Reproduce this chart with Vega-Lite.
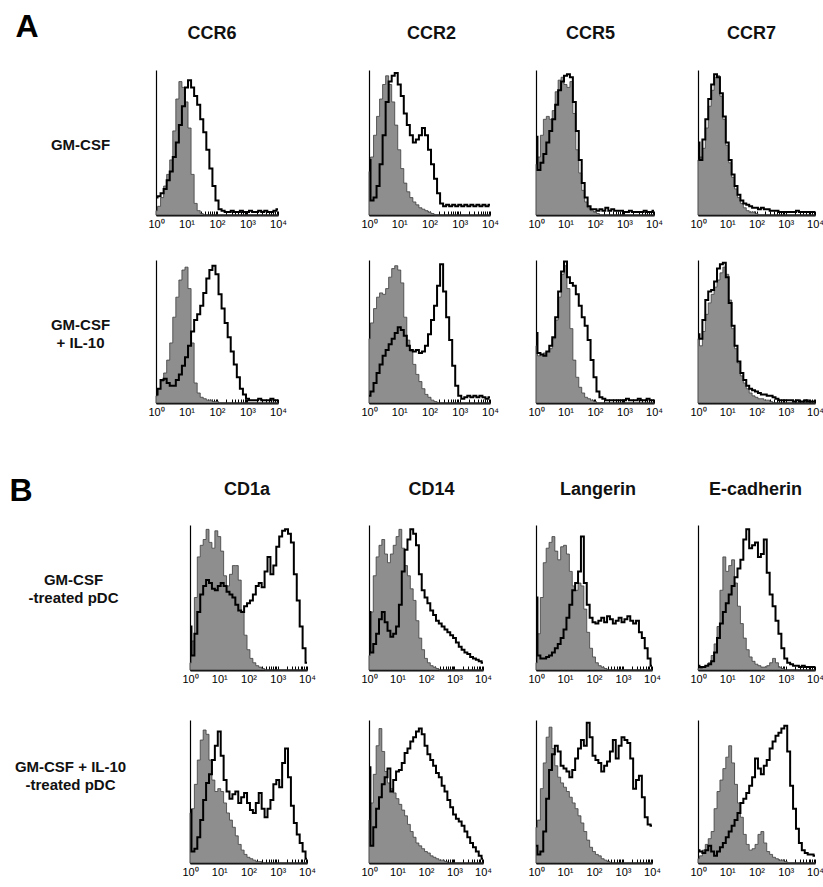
{
"$schema":"https://vega.github.io/schema/vega-lite/v6.json",
"background":"white",
"padding":{"left":9,"top":10,"right":6,"bottom":0},
"columns":4,
"spacing":{"row":45,"column":39},
"bounds":"flush",
"align":"none",
"config":{
"font":"Liberation Sans",
"view":{"stroke":null},
"axis":{"grid":false},
"axisBottom":{"zindex":1,"domainColor":"#000","domainWidth":2,"tickColor":"#000","tickWidth":1,"tickSize":-4,"labelFont":"Liberation Sans","labelFontSize":11,"labelColor":"#000","labelPadding":7,"labelFlush":false,"labelOverlap":false,"grid":false},
"axisLeft":{"zindex":1,"domainColor":"#000","domainWidth":1.2,"ticks":false,"labels":false,"grid":false,"titleAngle":0,"titleAlign":"center","titleBaseline":"alphabetic","titleFont":"Liberation Sans","titleFontSize":15,"titleFontWeight":"bold","titleLineHeight":18,"titleColor":"#111"},
"axisTop":{"domain":false,"ticks":false,"labels":false,"grid":false,"titleFont":"Liberation Sans","titleFontSize":18,"titleFontWeight":"bold","titleColor":"#111","titleAlign":"center","titleBaseline":"alphabetic","titleAngle":0}
},
"datasets":{
"ccr6_gm":[{"x":1,"i":3,"s":12},{"x":1.259,"i":6,"s":13},{"x":1.585,"i":12,"s":15},{"x":1.995,"i":20,"s":18},{"x":2.512,"i":28,"s":24},{"x":3.162,"i":38,"s":30},{"x":3.981,"i":58,"s":40},{"x":5.012,"i":80,"s":50},{"x":6.31,"i":92,"s":62},{"x":7.943,"i":88,"s":75},{"x":10,"i":78,"s":88},{"x":12.59,"i":60,"s":93},{"x":15.85,"i":28,"s":88},{"x":19.95,"i":8,"s":82},{"x":25.12,"i":3,"s":76},{"x":31.62,"i":1,"s":66},{"x":39.81,"i":0,"s":57},{"x":50.12,"i":0,"s":45},{"x":63.1,"i":0,"s":32},{"x":79.43,"i":0,"s":20},{"x":100,"i":0,"s":10},{"x":125.9,"i":0,"s":4},{"x":158.5,"i":0,"s":3},{"x":199.5,"i":0,"s":2},{"x":251.2,"i":0,"s":2},{"x":316.2,"i":0,"s":3},{"x":398.1,"i":0,"s":2},{"x":501.2,"i":0,"s":2},{"x":631,"i":0,"s":3},{"x":794.3,"i":0,"s":2},{"x":1000,"i":0,"s":2},{"x":1259,"i":0,"s":3},{"x":1585,"i":0,"s":2},{"x":1995,"i":0,"s":2},{"x":2512,"i":0,"s":3},{"x":3162,"i":0,"s":2},{"x":3981,"i":0,"s":3},{"x":5012,"i":0,"s":2},{"x":6310,"i":0,"s":2},{"x":7943,"i":0,"s":3},{"x":10000,"i":0,"s":4}],
"ccr2_gm":[{"x":1,"i":30,"s":38},{"x":1.259,"i":40,"s":10},{"x":1.585,"i":55,"s":12},{"x":1.995,"i":68,"s":20},{"x":2.512,"i":80,"s":35},{"x":3.162,"i":90,"s":55},{"x":3.981,"i":96,"s":78},{"x":5.012,"i":90,"s":92},{"x":6.31,"i":78,"s":96},{"x":7.943,"i":62,"s":98},{"x":10,"i":45,"s":90},{"x":12.59,"i":32,"s":82},{"x":15.85,"i":22,"s":70},{"x":19.95,"i":16,"s":62},{"x":25.12,"i":12,"s":55},{"x":31.62,"i":9,"s":50},{"x":39.81,"i":7,"s":52},{"x":50.12,"i":5,"s":55},{"x":63.1,"i":4,"s":60},{"x":79.43,"i":3,"s":55},{"x":100,"i":2,"s":45},{"x":125.9,"i":1,"s":35},{"x":158.5,"i":0,"s":25},{"x":199.5,"i":0,"s":15},{"x":251.2,"i":0,"s":8},{"x":316.2,"i":0,"s":6},{"x":398.1,"i":0,"s":7},{"x":501.2,"i":0,"s":6},{"x":631,"i":0,"s":7},{"x":794.3,"i":0,"s":6},{"x":1000,"i":0,"s":7},{"x":1259,"i":0,"s":6},{"x":1585,"i":0,"s":7},{"x":1995,"i":0,"s":6},{"x":2512,"i":0,"s":7},{"x":3162,"i":0,"s":6},{"x":3981,"i":0,"s":7},{"x":5012,"i":0,"s":6},{"x":6310,"i":0,"s":7},{"x":7943,"i":0,"s":6},{"x":10000,"i":0,"s":7}],
"ccr5_gm":[{"x":1,"i":35,"s":54},{"x":1.259,"i":40,"s":31},{"x":1.585,"i":55,"s":36},{"x":1.995,"i":66,"s":42},{"x":2.512,"i":68,"s":50},{"x":3.162,"i":66,"s":58},{"x":3.981,"i":72,"s":66},{"x":5.012,"i":85,"s":76},{"x":6.31,"i":93,"s":86},{"x":7.943,"i":95,"s":92},{"x":10,"i":90,"s":96},{"x":12.59,"i":88,"s":97},{"x":15.85,"i":92,"s":95},{"x":19.95,"i":70,"s":78},{"x":25.12,"i":45,"s":58},{"x":31.62,"i":29,"s":38},{"x":39.81,"i":17,"s":22},{"x":50.12,"i":9,"s":12},{"x":63.1,"i":5,"s":6},{"x":79.43,"i":3,"s":4},{"x":100,"i":2,"s":4},{"x":125.9,"i":1,"s":3},{"x":158.5,"i":0,"s":4},{"x":199.5,"i":0,"s":3},{"x":251.2,"i":0,"s":5},{"x":316.2,"i":0,"s":3},{"x":398.1,"i":0,"s":4},{"x":501.2,"i":0,"s":3},{"x":631,"i":0,"s":3},{"x":794.3,"i":0,"s":3},{"x":1000,"i":0,"s":2},{"x":1259,"i":0,"s":2},{"x":1585,"i":0,"s":3},{"x":1995,"i":0,"s":2},{"x":2512,"i":0,"s":2},{"x":3162,"i":0,"s":2},{"x":3981,"i":0,"s":2},{"x":5012,"i":0,"s":3},{"x":6310,"i":0,"s":2},{"x":7943,"i":0,"s":2},{"x":10000,"i":0,"s":3}],
"ccr7_gm":[{"x":1,"i":38,"s":50},{"x":1.259,"i":40,"s":38},{"x":1.585,"i":46,"s":52},{"x":1.995,"i":60,"s":66},{"x":2.512,"i":75,"s":80},{"x":3.162,"i":86,"s":90},{"x":3.981,"i":95,"s":97},{"x":5.012,"i":96,"s":95},{"x":6.31,"i":82,"s":84},{"x":7.943,"i":66,"s":68},{"x":10,"i":48,"s":50},{"x":12.59,"i":36,"s":38},{"x":15.85,"i":26,"s":28},{"x":19.95,"i":18,"s":20},{"x":25.12,"i":12,"s":14},{"x":31.62,"i":8,"s":10},{"x":39.81,"i":5,"s":8},{"x":50.12,"i":3,"s":7},{"x":63.1,"i":2,"s":6},{"x":79.43,"i":2,"s":5},{"x":100,"i":1,"s":5},{"x":125.9,"i":0,"s":4},{"x":158.5,"i":0,"s":5},{"x":199.5,"i":0,"s":4},{"x":251.2,"i":0,"s":4},{"x":316.2,"i":0,"s":3},{"x":398.1,"i":0,"s":3},{"x":501.2,"i":0,"s":3},{"x":631,"i":0,"s":2},{"x":794.3,"i":0,"s":2},{"x":1000,"i":0,"s":2},{"x":1259,"i":0,"s":2},{"x":1585,"i":0,"s":2},{"x":1995,"i":0,"s":2},{"x":2512,"i":0,"s":3},{"x":3162,"i":0,"s":2},{"x":3981,"i":0,"s":2},{"x":5012,"i":0,"s":2},{"x":6310,"i":0,"s":2},{"x":7943,"i":0,"s":2},{"x":10000,"i":0,"s":2}],
"ccr6_il10":[{"x":1,"i":5,"s":6},{"x":1.259,"i":10,"s":10},{"x":1.585,"i":15,"s":16},{"x":1.995,"i":21,"s":17},{"x":2.512,"i":30,"s":14},{"x":3.162,"i":42,"s":12},{"x":3.981,"i":60,"s":12},{"x":5.012,"i":74,"s":16},{"x":6.31,"i":86,"s":20},{"x":7.943,"i":93,"s":26},{"x":10,"i":95,"s":32},{"x":12.59,"i":80,"s":40},{"x":15.85,"i":42,"s":50},{"x":19.95,"i":14,"s":58},{"x":25.12,"i":7,"s":62},{"x":31.62,"i":4,"s":68},{"x":39.81,"i":3,"s":77},{"x":50.12,"i":2,"s":87},{"x":63.1,"i":2,"s":93},{"x":79.43,"i":1,"s":96},{"x":100,"i":1,"s":90},{"x":125.9,"i":0,"s":76},{"x":158.5,"i":0,"s":66},{"x":199.5,"i":0,"s":56},{"x":251.2,"i":0,"s":46},{"x":316.2,"i":0,"s":36},{"x":398.1,"i":0,"s":27},{"x":501.2,"i":0,"s":18},{"x":631,"i":0,"s":10},{"x":794.3,"i":0,"s":6},{"x":1000,"i":0,"s":3},{"x":1259,"i":0,"s":2},{"x":1585,"i":0,"s":2},{"x":1995,"i":0,"s":2},{"x":2512,"i":0,"s":3},{"x":3162,"i":0,"s":2},{"x":3981,"i":0,"s":2},{"x":5012,"i":0,"s":2},{"x":6310,"i":0,"s":3},{"x":7943,"i":0,"s":2},{"x":10000,"i":0,"s":2}],
"ccr2_il10":[{"x":1,"i":45,"s":5},{"x":1.259,"i":56,"s":8},{"x":1.585,"i":66,"s":14},{"x":1.995,"i":74,"s":21},{"x":2.512,"i":77,"s":27},{"x":3.162,"i":76,"s":33},{"x":3.981,"i":80,"s":37},{"x":5.012,"i":88,"s":41},{"x":6.31,"i":94,"s":45},{"x":7.943,"i":96,"s":49},{"x":10,"i":93,"s":53},{"x":12.59,"i":84,"s":51},{"x":15.85,"i":60,"s":47},{"x":19.95,"i":44,"s":40},{"x":25.12,"i":36,"s":37},{"x":31.62,"i":27,"s":36},{"x":39.81,"i":20,"s":37},{"x":50.12,"i":15,"s":35},{"x":63.1,"i":10,"s":36},{"x":79.43,"i":6,"s":40},{"x":100,"i":4,"s":48},{"x":125.9,"i":2,"s":58},{"x":158.5,"i":1,"s":68},{"x":199.5,"i":0,"s":82},{"x":251.2,"i":0,"s":97},{"x":316.2,"i":0,"s":78},{"x":398.1,"i":0,"s":60},{"x":501.2,"i":0,"s":44},{"x":631,"i":0,"s":26},{"x":794.3,"i":0,"s":12},{"x":1000,"i":0,"s":5},{"x":1259,"i":0,"s":3},{"x":1585,"i":0,"s":4},{"x":1995,"i":0,"s":5},{"x":2512,"i":0,"s":4},{"x":3162,"i":0,"s":5},{"x":3981,"i":0,"s":4},{"x":5012,"i":0,"s":5},{"x":6310,"i":0,"s":4},{"x":7943,"i":0,"s":3},{"x":10000,"i":0,"s":4}],
"ccr5_il10":[{"x":1,"i":40,"s":49},{"x":1.259,"i":33,"s":35},{"x":1.585,"i":34,"s":34},{"x":1.995,"i":35,"s":33},{"x":2.512,"i":36,"s":36},{"x":3.162,"i":38,"s":40},{"x":3.981,"i":45,"s":46},{"x":5.012,"i":58,"s":60},{"x":6.31,"i":74,"s":78},{"x":7.943,"i":90,"s":92},{"x":10,"i":96,"s":99},{"x":12.59,"i":80,"s":88},{"x":15.85,"i":52,"s":84},{"x":19.95,"i":30,"s":82},{"x":25.12,"i":18,"s":76},{"x":31.62,"i":11,"s":68},{"x":39.81,"i":7,"s":60},{"x":50.12,"i":4,"s":54},{"x":63.1,"i":3,"s":44},{"x":79.43,"i":2,"s":30},{"x":100,"i":1,"s":18},{"x":125.9,"i":0,"s":8},{"x":158.5,"i":0,"s":4},{"x":199.5,"i":0,"s":3},{"x":251.2,"i":0,"s":2},{"x":316.2,"i":0,"s":2},{"x":398.1,"i":0,"s":2},{"x":501.2,"i":0,"s":2},{"x":631,"i":0,"s":2},{"x":794.3,"i":0,"s":2},{"x":1000,"i":0,"s":2},{"x":1259,"i":0,"s":3},{"x":1585,"i":0,"s":2},{"x":1995,"i":0,"s":2},{"x":2512,"i":0,"s":2},{"x":3162,"i":0,"s":3},{"x":3981,"i":0,"s":2},{"x":5012,"i":0,"s":2},{"x":6310,"i":0,"s":3},{"x":7943,"i":0,"s":2},{"x":10000,"i":0,"s":2}],
"ccr7_il10":[{"x":1,"i":45,"s":48},{"x":1.259,"i":40,"s":45},{"x":1.585,"i":50,"s":58},{"x":1.995,"i":62,"s":72},{"x":2.512,"i":70,"s":78},{"x":3.162,"i":76,"s":79},{"x":3.981,"i":81,"s":85},{"x":5.012,"i":86,"s":94},{"x":6.31,"i":91,"s":97},{"x":7.943,"i":95,"s":98},{"x":10,"i":90,"s":88},{"x":12.59,"i":72,"s":70},{"x":15.85,"i":52,"s":54},{"x":19.95,"i":38,"s":40},{"x":25.12,"i":28,"s":29},{"x":31.62,"i":19,"s":21},{"x":39.81,"i":14,"s":16},{"x":50.12,"i":10,"s":12},{"x":63.1,"i":7,"s":10},{"x":79.43,"i":5,"s":9},{"x":100,"i":4,"s":8},{"x":125.9,"i":3,"s":7},{"x":158.5,"i":3,"s":6},{"x":199.5,"i":2,"s":6},{"x":251.2,"i":2,"s":5},{"x":316.2,"i":1,"s":5},{"x":398.1,"i":0,"s":4},{"x":501.2,"i":0,"s":3},{"x":631,"i":0,"s":2},{"x":794.3,"i":0,"s":2},{"x":1000,"i":0,"s":2},{"x":1259,"i":0,"s":2},{"x":1585,"i":0,"s":2},{"x":1995,"i":0,"s":1},{"x":2512,"i":0,"s":2},{"x":3162,"i":0,"s":1},{"x":3981,"i":0,"s":1},{"x":5012,"i":0,"s":2},{"x":6310,"i":0,"s":1},{"x":7943,"i":0,"s":1},{"x":10000,"i":0,"s":1}],
"cd1a_gm":[{"x":1,"i":5,"s":30},{"x":1.259,"i":20,"s":10},{"x":1.585,"i":50,"s":25},{"x":1.995,"i":78,"s":40},{"x":2.512,"i":86,"s":52},{"x":3.162,"i":90,"s":58},{"x":3.981,"i":97,"s":62},{"x":5.012,"i":88,"s":60},{"x":6.31,"i":84,"s":56},{"x":7.943,"i":96,"s":55},{"x":10,"i":92,"s":58},{"x":12.59,"i":82,"s":60},{"x":15.85,"i":65,"s":58},{"x":19.95,"i":58,"s":54},{"x":25.12,"i":66,"s":52},{"x":31.62,"i":72,"s":50},{"x":39.81,"i":72,"s":45},{"x":50.12,"i":62,"s":41},{"x":63.1,"i":40,"s":40},{"x":79.43,"i":24,"s":44},{"x":100,"i":14,"s":46},{"x":125.9,"i":8,"s":48},{"x":158.5,"i":5,"s":52},{"x":199.5,"i":3,"s":58},{"x":251.2,"i":2,"s":60},{"x":316.2,"i":1,"s":57},{"x":398.1,"i":0,"s":68},{"x":501.2,"i":0,"s":78},{"x":631,"i":0,"s":66},{"x":794.3,"i":0,"s":72},{"x":1000,"i":0,"s":85},{"x":1259,"i":0,"s":92},{"x":1585,"i":0,"s":96},{"x":1995,"i":0,"s":97},{"x":2512,"i":0,"s":94},{"x":3162,"i":0,"s":88},{"x":3981,"i":0,"s":66},{"x":5012,"i":0,"s":48},{"x":6310,"i":0,"s":30},{"x":7943,"i":0,"s":15},{"x":10000,"i":0,"s":5}],
"cd14_gm":[{"x":1,"i":10,"s":40},{"x":1.259,"i":40,"s":12},{"x":1.585,"i":65,"s":18},{"x":1.995,"i":78,"s":25},{"x":2.512,"i":86,"s":35},{"x":3.162,"i":90,"s":40},{"x":3.981,"i":80,"s":33},{"x":5.012,"i":74,"s":27},{"x":6.31,"i":80,"s":23},{"x":7.943,"i":86,"s":25},{"x":10,"i":92,"s":30},{"x":12.59,"i":97,"s":45},{"x":15.85,"i":84,"s":68},{"x":19.95,"i":72,"s":83},{"x":25.12,"i":65,"s":90},{"x":31.62,"i":56,"s":97},{"x":39.81,"i":48,"s":94},{"x":50.12,"i":34,"s":86},{"x":63.1,"i":22,"s":66},{"x":79.43,"i":14,"s":55},{"x":100,"i":8,"s":50},{"x":125.9,"i":5,"s":46},{"x":158.5,"i":3,"s":41},{"x":199.5,"i":2,"s":38},{"x":251.2,"i":1,"s":34},{"x":316.2,"i":0,"s":32},{"x":398.1,"i":0,"s":30},{"x":501.2,"i":0,"s":28},{"x":631,"i":0,"s":26},{"x":794.3,"i":0,"s":24},{"x":1000,"i":0,"s":22},{"x":1259,"i":0,"s":19},{"x":1585,"i":0,"s":16},{"x":1995,"i":0,"s":14},{"x":2512,"i":0,"s":12},{"x":3162,"i":0,"s":11},{"x":3981,"i":0,"s":9},{"x":5012,"i":0,"s":8},{"x":6310,"i":0,"s":7},{"x":7943,"i":0,"s":6},{"x":10000,"i":0,"s":5}],
"lang_gm":[{"x":1,"i":5,"s":50},{"x":1.259,"i":25,"s":10},{"x":1.585,"i":50,"s":8},{"x":1.995,"i":74,"s":8},{"x":2.512,"i":84,"s":9},{"x":3.162,"i":88,"s":10},{"x":3.981,"i":92,"s":12},{"x":5.012,"i":82,"s":15},{"x":6.31,"i":76,"s":18},{"x":7.943,"i":85,"s":22},{"x":10,"i":86,"s":28},{"x":12.59,"i":80,"s":36},{"x":15.85,"i":68,"s":45},{"x":19.95,"i":58,"s":55},{"x":25.12,"i":55,"s":60},{"x":31.62,"i":60,"s":68},{"x":39.81,"i":58,"s":92},{"x":50.12,"i":42,"s":60},{"x":63.1,"i":26,"s":45},{"x":79.43,"i":15,"s":36},{"x":100,"i":9,"s":33},{"x":125.9,"i":5,"s":32},{"x":158.5,"i":3,"s":34},{"x":199.5,"i":2,"s":36},{"x":251.2,"i":1,"s":33},{"x":316.2,"i":0,"s":37},{"x":398.1,"i":0,"s":35},{"x":501.2,"i":0,"s":32},{"x":631,"i":0,"s":34},{"x":794.3,"i":0,"s":36},{"x":1000,"i":0,"s":33},{"x":1259,"i":0,"s":35},{"x":1585,"i":0,"s":37},{"x":1995,"i":0,"s":34},{"x":2512,"i":0,"s":32},{"x":3162,"i":0,"s":34},{"x":3981,"i":0,"s":26},{"x":5012,"i":0,"s":22},{"x":6310,"i":0,"s":15},{"x":7943,"i":0,"s":8},{"x":10000,"i":0,"s":3}],
"ecad_gm":[{"x":1,"i":1,"s":3},{"x":1.259,"i":1,"s":2},{"x":1.585,"i":2,"s":2},{"x":1.995,"i":3,"s":3},{"x":2.512,"i":5,"s":4},{"x":3.162,"i":10,"s":6},{"x":3.981,"i":18,"s":12},{"x":5.012,"i":30,"s":22},{"x":6.31,"i":55,"s":32},{"x":7.943,"i":78,"s":40},{"x":10,"i":68,"s":46},{"x":12.59,"i":72,"s":52},{"x":15.85,"i":76,"s":58},{"x":19.95,"i":60,"s":64},{"x":25.12,"i":44,"s":70},{"x":31.62,"i":32,"s":76},{"x":39.81,"i":22,"s":90},{"x":50.12,"i":14,"s":97},{"x":63.1,"i":9,"s":84},{"x":79.43,"i":6,"s":86},{"x":100,"i":4,"s":88},{"x":125.9,"i":3,"s":78},{"x":158.5,"i":2,"s":80},{"x":199.5,"i":2,"s":90},{"x":251.2,"i":3,"s":67},{"x":316.2,"i":5,"s":52},{"x":398.1,"i":8,"s":44},{"x":501.2,"i":5,"s":34},{"x":631,"i":2,"s":25},{"x":794.3,"i":1,"s":15},{"x":1000,"i":0,"s":8},{"x":1259,"i":0,"s":5},{"x":1585,"i":0,"s":4},{"x":1995,"i":0,"s":3},{"x":2512,"i":0,"s":3},{"x":3162,"i":0,"s":2},{"x":3981,"i":0,"s":3},{"x":5012,"i":0,"s":2},{"x":6310,"i":0,"s":2},{"x":7943,"i":0,"s":2},{"x":10000,"i":0,"s":2}],
"cd1a_il10":[{"x":1,"i":35,"s":37},{"x":1.259,"i":38,"s":8},{"x":1.585,"i":55,"s":10},{"x":1.995,"i":72,"s":18},{"x":2.512,"i":86,"s":30},{"x":3.162,"i":93,"s":44},{"x":3.981,"i":90,"s":56},{"x":5.012,"i":72,"s":62},{"x":6.31,"i":58,"s":72},{"x":7.943,"i":50,"s":82},{"x":10,"i":52,"s":92},{"x":12.59,"i":50,"s":75},{"x":15.85,"i":42,"s":58},{"x":19.95,"i":35,"s":50},{"x":25.12,"i":30,"s":45},{"x":31.62,"i":25,"s":48},{"x":39.81,"i":19,"s":50},{"x":50.12,"i":13,"s":42},{"x":63.1,"i":9,"s":46},{"x":79.43,"i":6,"s":49},{"x":100,"i":4,"s":42},{"x":125.9,"i":3,"s":37},{"x":158.5,"i":2,"s":35},{"x":199.5,"i":1,"s":42},{"x":251.2,"i":1,"s":49},{"x":316.2,"i":0,"s":38},{"x":398.1,"i":0,"s":32},{"x":501.2,"i":0,"s":38},{"x":631,"i":0,"s":44},{"x":794.3,"i":0,"s":55},{"x":1000,"i":0,"s":58},{"x":1259,"i":0,"s":53},{"x":1585,"i":0,"s":70},{"x":1995,"i":0,"s":80},{"x":2512,"i":0,"s":60},{"x":3162,"i":0,"s":40},{"x":3981,"i":0,"s":28},{"x":5012,"i":0,"s":20},{"x":6310,"i":0,"s":14},{"x":7943,"i":0,"s":8},{"x":10000,"i":0,"s":3}],
"cd14_il10":[{"x":1,"i":30,"s":67},{"x":1.259,"i":42,"s":12},{"x":1.585,"i":62,"s":25},{"x":1.995,"i":82,"s":38},{"x":2.512,"i":94,"s":46},{"x":3.162,"i":78,"s":55},{"x":3.981,"i":64,"s":60},{"x":5.012,"i":56,"s":66},{"x":6.31,"i":52,"s":50},{"x":7.943,"i":49,"s":58},{"x":10,"i":45,"s":64},{"x":12.59,"i":41,"s":65},{"x":15.85,"i":37,"s":70},{"x":19.95,"i":33,"s":77},{"x":25.12,"i":27,"s":80},{"x":31.62,"i":22,"s":85},{"x":39.81,"i":18,"s":88},{"x":50.12,"i":14,"s":92},{"x":63.1,"i":12,"s":94},{"x":79.43,"i":10,"s":90},{"x":100,"i":8,"s":82},{"x":125.9,"i":7,"s":76},{"x":158.5,"i":5,"s":72},{"x":199.5,"i":4,"s":68},{"x":251.2,"i":3,"s":63},{"x":316.2,"i":2,"s":60},{"x":398.1,"i":2,"s":54},{"x":501.2,"i":1,"s":50},{"x":631,"i":0,"s":44},{"x":794.3,"i":0,"s":39},{"x":1000,"i":0,"s":34},{"x":1259,"i":0,"s":31},{"x":1585,"i":0,"s":29},{"x":1995,"i":0,"s":26},{"x":2512,"i":0,"s":22},{"x":3162,"i":0,"s":18},{"x":3981,"i":0,"s":14},{"x":5012,"i":0,"s":11},{"x":6310,"i":0,"s":8},{"x":7943,"i":0,"s":5},{"x":10000,"i":0,"s":3}],
"lang_il10":[{"x":1,"i":25,"s":12},{"x":1.259,"i":30,"s":6},{"x":1.585,"i":52,"s":8},{"x":1.995,"i":70,"s":22},{"x":2.512,"i":88,"s":45},{"x":3.162,"i":95,"s":65},{"x":3.981,"i":80,"s":76},{"x":5.012,"i":68,"s":82},{"x":6.31,"i":60,"s":78},{"x":7.943,"i":56,"s":68},{"x":10,"i":53,"s":66},{"x":12.59,"i":50,"s":64},{"x":15.85,"i":46,"s":60},{"x":19.95,"i":42,"s":65},{"x":25.12,"i":38,"s":73},{"x":31.62,"i":33,"s":80},{"x":39.81,"i":28,"s":86},{"x":50.12,"i":22,"s":82},{"x":63.1,"i":16,"s":98},{"x":79.43,"i":11,"s":88},{"x":100,"i":8,"s":75},{"x":125.9,"i":6,"s":72},{"x":158.5,"i":5,"s":70},{"x":199.5,"i":3,"s":64},{"x":251.2,"i":2,"s":68},{"x":316.2,"i":1,"s":71},{"x":398.1,"i":0,"s":78},{"x":501.2,"i":0,"s":86},{"x":631,"i":0,"s":73},{"x":794.3,"i":0,"s":82},{"x":1000,"i":0,"s":88},{"x":1259,"i":0,"s":86},{"x":1585,"i":0,"s":84},{"x":1995,"i":0,"s":73},{"x":2512,"i":0,"s":52},{"x":3162,"i":0,"s":58},{"x":3981,"i":0,"s":61},{"x":5012,"i":0,"s":46},{"x":6310,"i":0,"s":32},{"x":7943,"i":0,"s":27},{"x":10000,"i":0,"s":26}],
"ecad_il10":[{"x":1,"i":3,"s":9},{"x":1.259,"i":5,"s":8},{"x":1.585,"i":9,"s":7},{"x":1.995,"i":13,"s":9},{"x":2.512,"i":17,"s":12},{"x":3.162,"i":22,"s":8},{"x":3.981,"i":38,"s":5},{"x":5.012,"i":50,"s":8},{"x":6.31,"i":58,"s":11},{"x":7.943,"i":66,"s":14},{"x":10,"i":74,"s":18},{"x":12.59,"i":82,"s":22},{"x":15.85,"i":70,"s":26},{"x":19.95,"i":55,"s":30},{"x":25.12,"i":42,"s":35},{"x":31.62,"i":32,"s":42},{"x":39.81,"i":20,"s":45},{"x":50.12,"i":13,"s":49},{"x":63.1,"i":9,"s":54},{"x":79.43,"i":10,"s":60},{"x":100,"i":13,"s":73},{"x":125.9,"i":20,"s":66},{"x":158.5,"i":22,"s":62},{"x":199.5,"i":14,"s":68},{"x":251.2,"i":8,"s":72},{"x":316.2,"i":6,"s":80},{"x":398.1,"i":4,"s":85},{"x":501.2,"i":3,"s":89},{"x":631,"i":2,"s":91},{"x":794.3,"i":2,"s":94},{"x":1000,"i":1,"s":96},{"x":1259,"i":0,"s":78},{"x":1585,"i":0,"s":54},{"x":1995,"i":0,"s":38},{"x":2512,"i":0,"s":24},{"x":3162,"i":0,"s":14},{"x":3981,"i":0,"s":9},{"x":5012,"i":0,"s":7},{"x":6310,"i":0,"s":6},{"x":7943,"i":0,"s":6},{"x":10000,"i":0,"s":5}]
},
"concat":[
{"width":174,"height":145,"data":{"name":"ccr6_gm"},"resolve":{"axis":{"x":"independent"}},"layer":[
{"mark":{"type":"area","interpolate":"step","fill":"#8e8e8e","fillOpacity":1,"opacity":1,"stroke":"#3c3c3c","strokeWidth":0.8},"encoding":{"x":{"field":"x","type":"quantitative","scale":{"type":"log","domain":[1,10000],"range":[0,122],"nice":false},"axis":{"values":[1,2,3,4,5,6,7,8,9,10,20,30,40,50,60,70,80,90,100,200,300,400,500,600,700,800,900,1000,2000,3000,4000,5000,6000,7000,8000,9000,10000],"labelExpr":"datum.value == 1 ? '10⁰' : datum.value == 10 ? '10¹' : datum.value == 100 ? '10²' : datum.value == 1000 ? '10³' : datum.value == 10000 ? '10⁴' : ''","title":"A","titleX":-141,"titleY":-179,"titleFont":"Liberation Sans","titleFontSize":32,"titleFontWeight":"bold","titleAlign":"left","titleBaseline":"alphabetic","titleColor":"#000","titleAngle":0}},"y":{"field":"i","type":"quantitative","scale":{"domain":[0,100],"nice":false},"axis":{"title":"GM-CSF","titleX":-76,"titleY":79}}}},
{"mark":{"type":"line","interpolate":"step","color":"#000","strokeWidth":2},"encoding":{"x":{"field":"x","type":"quantitative","scale":{"type":"log","domain":[1,10000],"range":[0,122],"nice":false},"axis":{"orient":"top","title":"CCR6","titleX":55.5,"titleY":-32}},"y":{"field":"s","type":"quantitative","scale":{"domain":[0,100],"nice":false}}}}]},
{"width":121,"height":145,"data":{"name":"ccr2_gm"},"resolve":{"axis":{"x":"independent"}},"layer":[
{"mark":{"type":"area","interpolate":"step","fill":"#8e8e8e","fillOpacity":1,"opacity":1,"stroke":"#3c3c3c","strokeWidth":0.8},"encoding":{"x":{"field":"x","type":"quantitative","scale":{"type":"log","domain":[1,10000],"range":[0,121],"nice":false},"axis":{"values":[1,2,3,4,5,6,7,8,9,10,20,30,40,50,60,70,80,90,100,200,300,400,500,600,700,800,900,1000,2000,3000,4000,5000,6000,7000,8000,9000,10000],"labelExpr":"datum.value == 1 ? '10⁰' : datum.value == 10 ? '10¹' : datum.value == 100 ? '10²' : datum.value == 1000 ? '10³' : datum.value == 10000 ? '10⁴' : ''","title":null}},"y":{"field":"i","type":"quantitative","scale":{"domain":[0,100],"nice":false},"axis":{"title":null}}}},
{"mark":{"type":"line","interpolate":"step","color":"#000","strokeWidth":2},"encoding":{"x":{"field":"x","type":"quantitative","scale":{"type":"log","domain":[1,10000],"range":[0,121],"nice":false},"axis":{"orient":"top","title":"CCR2","titleX":62,"titleY":-32}},"y":{"field":"s","type":"quantitative","scale":{"domain":[0,100],"nice":false}}}}]},
{"width":120,"height":145,"data":{"name":"ccr5_gm"},"resolve":{"axis":{"x":"independent"}},"layer":[
{"mark":{"type":"area","interpolate":"step","fill":"#8e8e8e","fillOpacity":1,"opacity":1,"stroke":"#3c3c3c","strokeWidth":0.8},"encoding":{"x":{"field":"x","type":"quantitative","scale":{"type":"log","domain":[1,10000],"range":[0,118],"nice":false},"axis":{"values":[1,2,3,4,5,6,7,8,9,10,20,30,40,50,60,70,80,90,100,200,300,400,500,600,700,800,900,1000,2000,3000,4000,5000,6000,7000,8000,9000,10000],"labelExpr":"datum.value == 1 ? '10⁰' : datum.value == 10 ? '10¹' : datum.value == 100 ? '10²' : datum.value == 1000 ? '10³' : datum.value == 10000 ? '10⁴' : ''","title":null}},"y":{"field":"i","type":"quantitative","scale":{"domain":[0,100],"nice":false},"axis":{"title":null}}}},
{"mark":{"type":"line","interpolate":"step","color":"#000","strokeWidth":2},"encoding":{"x":{"field":"x","type":"quantitative","scale":{"type":"log","domain":[1,10000],"range":[0,118],"nice":false},"axis":{"orient":"top","title":"CCR5","titleX":54,"titleY":-32}},"y":{"field":"s","type":"quantitative","scale":{"domain":[0,100],"nice":false}}}}]},
{"width":120,"height":145,"data":{"name":"ccr7_gm"},"resolve":{"axis":{"x":"independent"}},"layer":[
{"mark":{"type":"area","interpolate":"step","fill":"#8e8e8e","fillOpacity":1,"opacity":1,"stroke":"#3c3c3c","strokeWidth":0.8},"encoding":{"x":{"field":"x","type":"quantitative","scale":{"type":"log","domain":[1,10000],"range":[0,117],"nice":false},"axis":{"values":[1,2,3,4,5,6,7,8,9,10,20,30,40,50,60,70,80,90,100,200,300,400,500,600,700,800,900,1000,2000,3000,4000,5000,6000,7000,8000,9000,10000],"labelExpr":"datum.value == 1 ? '10⁰' : datum.value == 10 ? '10¹' : datum.value == 100 ? '10²' : datum.value == 1000 ? '10³' : datum.value == 10000 ? '10⁴' : ''","title":null}},"y":{"field":"i","type":"quantitative","scale":{"domain":[0,100],"nice":false},"axis":{"title":null}}}},
{"mark":{"type":"line","interpolate":"step","color":"#000","strokeWidth":2},"encoding":{"x":{"field":"x","type":"quantitative","scale":{"type":"log","domain":[1,10000],"range":[0,117],"nice":false},"axis":{"orient":"top","title":"CCR7","titleX":53,"titleY":-32}},"y":{"field":"s","type":"quantitative","scale":{"domain":[0,100],"nice":false}}}}]},
{"width":174,"height":143,"data":{"name":"ccr6_il10"},"layer":[
{"mark":{"type":"area","interpolate":"step","fill":"#8e8e8e","fillOpacity":1,"opacity":1,"stroke":"#3c3c3c","strokeWidth":0.8},"encoding":{"x":{"field":"x","type":"quantitative","scale":{"type":"log","domain":[1,10000],"range":[0,122],"nice":false},"axis":{"values":[1,2,3,4,5,6,7,8,9,10,20,30,40,50,60,70,80,90,100,200,300,400,500,600,700,800,900,1000,2000,3000,4000,5000,6000,7000,8000,9000,10000],"labelExpr":"datum.value == 1 ? '10⁰' : datum.value == 10 ? '10¹' : datum.value == 100 ? '10²' : datum.value == 1000 ? '10³' : datum.value == 10000 ? '10⁴' : ''","title":null}},"y":{"field":"i","type":"quantitative","scale":{"domain":[0,100],"nice":false},"axis":{"title":["GM-CSF","+ IL-10"],"titleX":-76,"titleY":69}}}},
{"mark":{"type":"line","interpolate":"step","color":"#000","strokeWidth":2},"encoding":{"x":{"field":"x","type":"quantitative","scale":{"type":"log","domain":[1,10000],"range":[0,122],"nice":false}},"y":{"field":"s","type":"quantitative","scale":{"domain":[0,100],"nice":false}}}}]},
{"width":121,"height":143,"data":{"name":"ccr2_il10"},"layer":[
{"mark":{"type":"area","interpolate":"step","fill":"#8e8e8e","fillOpacity":1,"opacity":1,"stroke":"#3c3c3c","strokeWidth":0.8},"encoding":{"x":{"field":"x","type":"quantitative","scale":{"type":"log","domain":[1,10000],"range":[0,121],"nice":false},"axis":{"values":[1,2,3,4,5,6,7,8,9,10,20,30,40,50,60,70,80,90,100,200,300,400,500,600,700,800,900,1000,2000,3000,4000,5000,6000,7000,8000,9000,10000],"labelExpr":"datum.value == 1 ? '10⁰' : datum.value == 10 ? '10¹' : datum.value == 100 ? '10²' : datum.value == 1000 ? '10³' : datum.value == 10000 ? '10⁴' : ''","title":null}},"y":{"field":"i","type":"quantitative","scale":{"domain":[0,100],"nice":false},"axis":{"title":null}}}},
{"mark":{"type":"line","interpolate":"step","color":"#000","strokeWidth":2},"encoding":{"x":{"field":"x","type":"quantitative","scale":{"type":"log","domain":[1,10000],"range":[0,121],"nice":false}},"y":{"field":"s","type":"quantitative","scale":{"domain":[0,100],"nice":false}}}}]},
{"width":120,"height":143,"data":{"name":"ccr5_il10"},"layer":[
{"mark":{"type":"area","interpolate":"step","fill":"#8e8e8e","fillOpacity":1,"opacity":1,"stroke":"#3c3c3c","strokeWidth":0.8},"encoding":{"x":{"field":"x","type":"quantitative","scale":{"type":"log","domain":[1,10000],"range":[0,118],"nice":false},"axis":{"values":[1,2,3,4,5,6,7,8,9,10,20,30,40,50,60,70,80,90,100,200,300,400,500,600,700,800,900,1000,2000,3000,4000,5000,6000,7000,8000,9000,10000],"labelExpr":"datum.value == 1 ? '10⁰' : datum.value == 10 ? '10¹' : datum.value == 100 ? '10²' : datum.value == 1000 ? '10³' : datum.value == 10000 ? '10⁴' : ''","title":null}},"y":{"field":"i","type":"quantitative","scale":{"domain":[0,100],"nice":false},"axis":{"title":null}}}},
{"mark":{"type":"line","interpolate":"step","color":"#000","strokeWidth":2},"encoding":{"x":{"field":"x","type":"quantitative","scale":{"type":"log","domain":[1,10000],"range":[0,118],"nice":false}},"y":{"field":"s","type":"quantitative","scale":{"domain":[0,100],"nice":false}}}}]},
{"width":120,"height":143,"data":{"name":"ccr7_il10"},"layer":[
{"mark":{"type":"area","interpolate":"step","fill":"#8e8e8e","fillOpacity":1,"opacity":1,"stroke":"#3c3c3c","strokeWidth":0.8},"encoding":{"x":{"field":"x","type":"quantitative","scale":{"type":"log","domain":[1,10000],"range":[0,117],"nice":false},"axis":{"values":[1,2,3,4,5,6,7,8,9,10,20,30,40,50,60,70,80,90,100,200,300,400,500,600,700,800,900,1000,2000,3000,4000,5000,6000,7000,8000,9000,10000],"labelExpr":"datum.value == 1 ? '10⁰' : datum.value == 10 ? '10¹' : datum.value == 100 ? '10²' : datum.value == 1000 ? '10³' : datum.value == 10000 ? '10⁴' : ''","title":null}},"y":{"field":"i","type":"quantitative","scale":{"domain":[0,100],"nice":false},"axis":{"title":null}}}},
{"mark":{"type":"line","interpolate":"step","color":"#000","strokeWidth":2},"encoding":{"x":{"field":"x","type":"quantitative","scale":{"type":"log","domain":[1,10000],"range":[0,117],"nice":false}},"y":{"field":"s","type":"quantitative","scale":{"domain":[0,100],"nice":false}}}}]},
{"width":164,"height":222,"data":{"name":"cd1a_gm"},"resolve":{"axis":{"x":"independent"}},"layer":[
{"mark":{"type":"area","interpolate":"step","fill":"#8e8e8e","fillOpacity":1,"opacity":1,"stroke":"#3c3c3c","strokeWidth":0.8},"encoding":{"x":{"field":"x","type":"quantitative","scale":{"type":"log","domain":[1,10000],"range":[34,151],"nice":false},"axis":{"values":[1,2,3,4,5,6,7,8,9,10,20,30,40,50,60,70,80,90,100,200,300,400,500,600,700,800,900,1000,2000,3000,4000,5000,6000,7000,8000,9000,10000],"labelExpr":"datum.value == 1 ? '10⁰' : datum.value == 10 ? '10¹' : datum.value == 100 ? '10²' : datum.value == 1000 ? '10³' : datum.value == 10000 ? '10⁴' : ''","title":"B","titleX":-147,"titleY":-170,"titleFont":"Liberation Sans","titleFontSize":32,"titleFontWeight":"bold","titleAlign":"left","titleBaseline":"alphabetic","titleColor":"#000","titleAngle":0}},"y":{"field":"i","type":"quantitative","scale":{"domain":[0,100],"nice":false,"range":[222,77]},"axis":{"offset":-34,"title":["GM-CSF","-treated pDC"],"titleX":-117,"titleY":136}}}},
{"mark":{"type":"line","interpolate":"step","color":"#000","strokeWidth":2},"encoding":{"x":{"field":"x","type":"quantitative","scale":{"type":"log","domain":[1,10000],"range":[34,151],"nice":false},"axis":{"orient":"top","title":"CD1a","titleX":90.5,"titleY":46}},"y":{"field":"s","type":"quantitative","scale":{"domain":[0,100],"nice":false,"range":[222,77]}}}}]},
{"width":128,"height":222,"data":{"name":"cd14_gm"},"resolve":{"axis":{"x":"independent"}},"layer":[
{"mark":{"type":"area","interpolate":"step","fill":"#8e8e8e","fillOpacity":1,"opacity":1,"stroke":"#3c3c3c","strokeWidth":0.8},"encoding":{"x":{"field":"x","type":"quantitative","scale":{"type":"log","domain":[1,10000],"range":[0,114],"nice":false},"axis":{"values":[1,2,3,4,5,6,7,8,9,10,20,30,40,50,60,70,80,90,100,200,300,400,500,600,700,800,900,1000,2000,3000,4000,5000,6000,7000,8000,9000,10000],"labelExpr":"datum.value == 1 ? '10⁰' : datum.value == 10 ? '10¹' : datum.value == 100 ? '10²' : datum.value == 1000 ? '10³' : datum.value == 10000 ? '10⁴' : ''","title":null}},"y":{"field":"i","type":"quantitative","scale":{"domain":[0,100],"nice":false,"range":[222,77]},"axis":{"title":null}}}},
{"mark":{"type":"line","interpolate":"step","color":"#000","strokeWidth":2},"encoding":{"x":{"field":"x","type":"quantitative","scale":{"type":"log","domain":[1,10000],"range":[0,114],"nice":false},"axis":{"orient":"top","title":"CD14","titleX":62,"titleY":46}},"y":{"field":"s","type":"quantitative","scale":{"domain":[0,100],"nice":false,"range":[222,77]}}}}]},
{"width":123,"height":222,"data":{"name":"lang_gm"},"resolve":{"axis":{"x":"independent"}},"layer":[
{"mark":{"type":"area","interpolate":"step","fill":"#8e8e8e","fillOpacity":1,"opacity":1,"stroke":"#3c3c3c","strokeWidth":0.8},"encoding":{"x":{"field":"x","type":"quantitative","scale":{"type":"log","domain":[1,10000],"range":[0,116],"nice":false},"axis":{"values":[1,2,3,4,5,6,7,8,9,10,20,30,40,50,60,70,80,90,100,200,300,400,500,600,700,800,900,1000,2000,3000,4000,5000,6000,7000,8000,9000,10000],"labelExpr":"datum.value == 1 ? '10⁰' : datum.value == 10 ? '10¹' : datum.value == 100 ? '10²' : datum.value == 1000 ? '10³' : datum.value == 10000 ? '10⁴' : ''","title":null}},"y":{"field":"i","type":"quantitative","scale":{"domain":[0,100],"nice":false,"range":[222,77]},"axis":{"title":null}}}},
{"mark":{"type":"line","interpolate":"step","color":"#000","strokeWidth":2},"encoding":{"x":{"field":"x","type":"quantitative","scale":{"type":"log","domain":[1,10000],"range":[0,116],"nice":false},"axis":{"orient":"top","title":"Langerin","titleX":61.5,"titleY":46}},"y":{"field":"s","type":"quantitative","scale":{"domain":[0,100],"nice":false,"range":[222,77]}}}}]},
{"width":117,"height":222,"data":{"name":"ecad_gm"},"resolve":{"axis":{"x":"independent"}},"layer":[
{"mark":{"type":"area","interpolate":"step","fill":"#8e8e8e","fillOpacity":1,"opacity":1,"stroke":"#3c3c3c","strokeWidth":0.8},"encoding":{"x":{"field":"x","type":"quantitative","scale":{"type":"log","domain":[1,10000],"range":[0,117],"nice":false},"axis":{"values":[1,2,3,4,5,6,7,8,9,10,20,30,40,50,60,70,80,90,100,200,300,400,500,600,700,800,900,1000,2000,3000,4000,5000,6000,7000,8000,9000,10000],"labelExpr":"datum.value == 1 ? '10⁰' : datum.value == 10 ? '10¹' : datum.value == 100 ? '10²' : datum.value == 1000 ? '10³' : datum.value == 10000 ? '10⁴' : ''","title":null}},"y":{"field":"i","type":"quantitative","scale":{"domain":[0,100],"nice":false,"range":[222,77]},"axis":{"title":null}}}},
{"mark":{"type":"line","interpolate":"step","color":"#000","strokeWidth":2},"encoding":{"x":{"field":"x","type":"quantitative","scale":{"type":"log","domain":[1,10000],"range":[0,117],"nice":false},"axis":{"orient":"top","title":"E-cadherin","titleX":57,"titleY":46}},"y":{"field":"s","type":"quantitative","scale":{"domain":[0,100],"nice":false,"range":[222,77]}}}}]},
{"width":164,"height":148,"data":{"name":"cd1a_il10"},"layer":[
{"mark":{"type":"area","interpolate":"step","fill":"#8e8e8e","fillOpacity":1,"opacity":1,"stroke":"#3c3c3c","strokeWidth":0.8},"encoding":{"x":{"field":"x","type":"quantitative","scale":{"type":"log","domain":[1,10000],"range":[34,151],"nice":false},"axis":{"values":[1,2,3,4,5,6,7,8,9,10,20,30,40,50,60,70,80,90,100,200,300,400,500,600,700,800,900,1000,2000,3000,4000,5000,6000,7000,8000,9000,10000],"labelExpr":"datum.value == 1 ? '10⁰' : datum.value == 10 ? '10¹' : datum.value == 100 ? '10²' : datum.value == 1000 ? '10³' : datum.value == 10000 ? '10⁴' : ''","title":null}},"y":{"field":"i","type":"quantitative","scale":{"domain":[0,100],"nice":false,"range":[148,5]},"axis":{"offset":-34,"title":["GM-CSF + IL-10","-treated pDC"],"titleX":-120,"titleY":56}}}},
{"mark":{"type":"line","interpolate":"step","color":"#000","strokeWidth":2},"encoding":{"x":{"field":"x","type":"quantitative","scale":{"type":"log","domain":[1,10000],"range":[34,151],"nice":false}},"y":{"field":"s","type":"quantitative","scale":{"domain":[0,100],"nice":false,"range":[148,5]}}}}]},
{"width":128,"height":148,"data":{"name":"cd14_il10"},"layer":[
{"mark":{"type":"area","interpolate":"step","fill":"#8e8e8e","fillOpacity":1,"opacity":1,"stroke":"#3c3c3c","strokeWidth":0.8},"encoding":{"x":{"field":"x","type":"quantitative","scale":{"type":"log","domain":[1,10000],"range":[0,114],"nice":false},"axis":{"values":[1,2,3,4,5,6,7,8,9,10,20,30,40,50,60,70,80,90,100,200,300,400,500,600,700,800,900,1000,2000,3000,4000,5000,6000,7000,8000,9000,10000],"labelExpr":"datum.value == 1 ? '10⁰' : datum.value == 10 ? '10¹' : datum.value == 100 ? '10²' : datum.value == 1000 ? '10³' : datum.value == 10000 ? '10⁴' : ''","title":null}},"y":{"field":"i","type":"quantitative","scale":{"domain":[0,100],"nice":false,"range":[148,5]},"axis":{"title":null}}}},
{"mark":{"type":"line","interpolate":"step","color":"#000","strokeWidth":2},"encoding":{"x":{"field":"x","type":"quantitative","scale":{"type":"log","domain":[1,10000],"range":[0,114],"nice":false}},"y":{"field":"s","type":"quantitative","scale":{"domain":[0,100],"nice":false,"range":[148,5]}}}}]},
{"width":123,"height":148,"data":{"name":"lang_il10"},"layer":[
{"mark":{"type":"area","interpolate":"step","fill":"#8e8e8e","fillOpacity":1,"opacity":1,"stroke":"#3c3c3c","strokeWidth":0.8},"encoding":{"x":{"field":"x","type":"quantitative","scale":{"type":"log","domain":[1,10000],"range":[0,116],"nice":false},"axis":{"values":[1,2,3,4,5,6,7,8,9,10,20,30,40,50,60,70,80,90,100,200,300,400,500,600,700,800,900,1000,2000,3000,4000,5000,6000,7000,8000,9000,10000],"labelExpr":"datum.value == 1 ? '10⁰' : datum.value == 10 ? '10¹' : datum.value == 100 ? '10²' : datum.value == 1000 ? '10³' : datum.value == 10000 ? '10⁴' : ''","title":null}},"y":{"field":"i","type":"quantitative","scale":{"domain":[0,100],"nice":false,"range":[148,5]},"axis":{"title":null}}}},
{"mark":{"type":"line","interpolate":"step","color":"#000","strokeWidth":2},"encoding":{"x":{"field":"x","type":"quantitative","scale":{"type":"log","domain":[1,10000],"range":[0,116],"nice":false}},"y":{"field":"s","type":"quantitative","scale":{"domain":[0,100],"nice":false,"range":[148,5]}}}}]},
{"width":117,"height":148,"data":{"name":"ecad_il10"},"layer":[
{"mark":{"type":"area","interpolate":"step","fill":"#8e8e8e","fillOpacity":1,"opacity":1,"stroke":"#3c3c3c","strokeWidth":0.8},"encoding":{"x":{"field":"x","type":"quantitative","scale":{"type":"log","domain":[1,10000],"range":[0,117],"nice":false},"axis":{"values":[1,2,3,4,5,6,7,8,9,10,20,30,40,50,60,70,80,90,100,200,300,400,500,600,700,800,900,1000,2000,3000,4000,5000,6000,7000,8000,9000,10000],"labelExpr":"datum.value == 1 ? '10⁰' : datum.value == 10 ? '10¹' : datum.value == 100 ? '10²' : datum.value == 1000 ? '10³' : datum.value == 10000 ? '10⁴' : ''","title":null}},"y":{"field":"i","type":"quantitative","scale":{"domain":[0,100],"nice":false,"range":[148,5]},"axis":{"title":null}}}},
{"mark":{"type":"line","interpolate":"step","color":"#000","strokeWidth":2},"encoding":{"x":{"field":"x","type":"quantitative","scale":{"type":"log","domain":[1,10000],"range":[0,117],"nice":false}},"y":{"field":"s","type":"quantitative","scale":{"domain":[0,100],"nice":false,"range":[148,5]}}}}]}
]
}
